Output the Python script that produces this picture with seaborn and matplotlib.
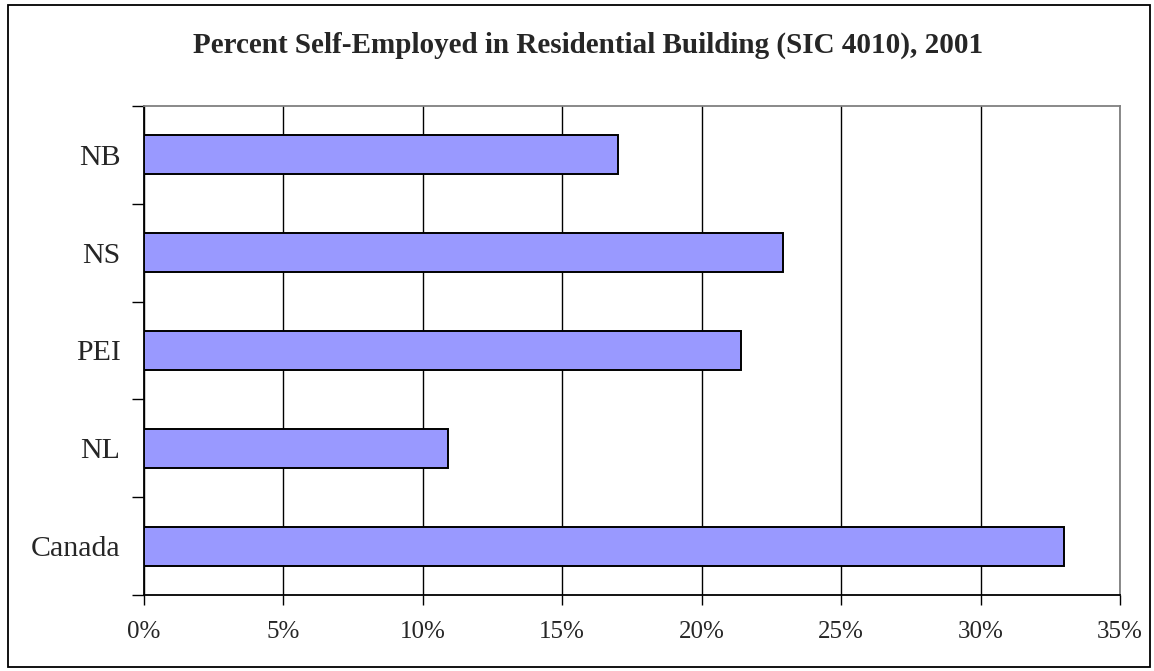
import matplotlib
matplotlib.use("Agg")
import matplotlib.pyplot as plt
import seaborn as sns
import pandas as pd
from matplotlib.patches import Rectangle
from matplotlib.ticker import FuncFormatter, FixedLocator

regions = ["NB", "NS", "PEI", "NL", "Canada"]
pct_self_employed = [17.0, 22.9, 21.4, 10.9, 33.0]
x_ticks = [0, 5, 10, 15, 20, 25, 30, 35]
title = "Percent Self-Employed in Residential Building (SIC 4010), 2001"

df = pd.DataFrame({"region": regions, "pct": pct_self_employed})

sns.set_theme(style="white")
plt.rcParams["font.family"] = ["Liberation Serif", "DejaVu Serif"]

W, H = 1154, 671
fig = plt.figure(figsize=(W / 100, H / 100), dpi=100)
fig.patch.set_facecolor("white")

# outer chart border
bl, bt, br, bb = 8, 5, 1150, 667
fig.add_artist(Rectangle((bl / W, 1 - bb / H), (br - bl) / W, (bb - bt) / H,
                         transform=fig.transFigure, fill=False, edgecolor="black", linewidth=1.3))

left, right, top, bottom = 144, 1120, 106, 595
ax = fig.add_axes([left / W, 1 - bottom / H, (right - left) / W, (bottom - top) / H])

sns.barplot(data=df, x="pct", y="region", order=regions, orient="h", width=0.4,
            color="#9999FF", saturation=1, edgecolor="black", linewidth=1.4, ax=ax, zorder=3)

ax.set_xlim(0, 35)
ax.set_ylim(len(regions) - 0.5, -0.5)
ax.xaxis.set_major_locator(FixedLocator(x_ticks))
ax.xaxis.set_major_formatter(FuncFormatter(lambda v, p: f"{v:.0f}%"))
ax.grid(axis="x", color="black", linewidth=1.0, zorder=0)
ax.grid(axis="y", visible=False)
ax.set_axisbelow(True)

# y ticks at category boundaries, labels at centers
ax.yaxis.set_major_locator(FixedLocator([i - 0.5 for i in range(len(regions) + 1)]))
ax.yaxis.set_minor_locator(FixedLocator(list(range(len(regions)))))
ax.yaxis.set_major_formatter(FuncFormatter(lambda v, p: ""))
ax.set_yticklabels(regions, minor=True)
ax.tick_params(axis="y", which="major", length=9, width=1, color="black", direction="out", left=True)
ax.tick_params(axis="y", which="minor", length=0, labelsize=21.5, pad=17)
ax.tick_params(axis="x", which="major", length=7, width=1, color="black", direction="out",
               bottom=True, labelsize=18, pad=12)

ax.set_xlabel("")
ax.set_ylabel("")

for s in ["left", "bottom"]:
    ax.spines[s].set_color("black")
    ax.spines[s].set_linewidth(1.3)
    ax.spines[s].set_visible(True)
for s in ["top", "right"]:
    ax.spines[s].set_color("#808080")
    ax.spines[s].set_linewidth(1.3)
    ax.spines[s].set_visible(True)

fig.text(588 / W, 1 - 45 / H, title, ha="center", va="center",
         fontsize=21, fontweight="bold")

fig.savefig("out.png", dpi=100)
